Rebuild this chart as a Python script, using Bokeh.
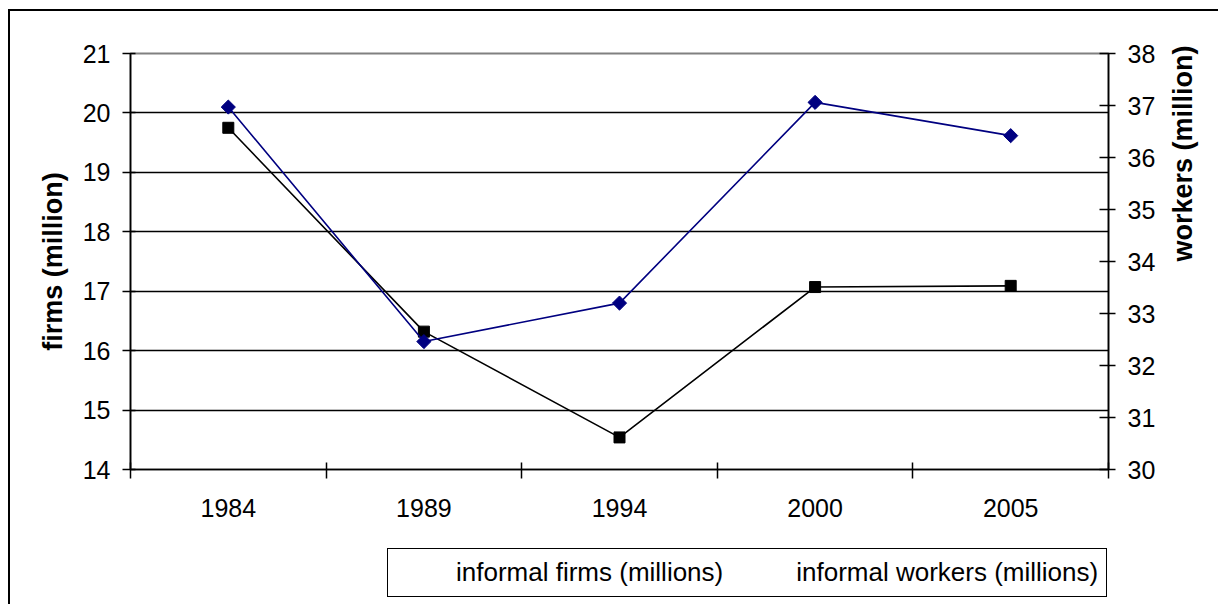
import math
from bokeh.plotting import figure
from bokeh.layouts import column
from bokeh.models import (Range1d, LinearAxis, FixedTicker, Legend, LegendItem, ColumnDataSource,
                          InlineStyleSheet)
from bokeh.embed import file_html
from bokeh.resources import INLINE

years = ["1984", "1989", "1994", "2000", "2005"]
firms = [19.75, 16.32, 14.54, 17.07, 17.09]
workers = [36.97, 32.46, 33.20, 37.06, 36.42]
firms_ticks = [14, 15, 16, 17, 18, 19, 20, 21]
workers_ticks = [30, 31, 32, 33, 34, 35, 36, 37, 38]
series_labels = ["informal firms (millions)", "informal workers (millions)"]

FONT = "Liberation Sans"
FIRM_COLOR = "black"
WORKER_COLOR = "#000080"
xs = [i + 0.5 for i in range(len(years))]
src = ColumnDataSource(dict(x=xs, firms=firms, workers=workers))

# ---------------- main chart ----------------
p = figure(width=1218, height=530, output_backend="svg", toolbar_location=None,
           x_range=Range1d(0, len(years)), y_range=Range1d(14, 21),
           min_border_left=130, min_border_right=110, min_border_top=53, min_border_bottom=61)
p.stylesheets = [InlineStyleSheet(css=(
    ":host::after { content: ''; position: absolute; left: 8px; top: 9px; right: 0px; bottom: 0px;"
    " border-left: 2px solid black; border-top: 2px solid black; pointer-events: none; z-index: 100; }"))]
p.extra_y_ranges = {"workers": Range1d(30, 38)}

p.background_fill_color = "white"
p.border_fill_color = "white"
p.outline_line_color = "#808080"
p.outline_line_width = 2

p.xgrid.visible = False
p.ygrid.ticker = FixedTicker(ticks=firms_ticks[1:-1])
p.ygrid.grid_line_color = "black"
p.ygrid.grid_line_width = 1.6

# x axis: labels centred in each slot, tick marks between slots
xa = p.xaxis[0]
xa.ticker = FixedTicker(ticks=xs, minor_ticks=list(range(len(years) + 1)))
xa.major_label_overrides = {x: y for x, y in zip(xs, years)}
xa.major_tick_out = 0
xa.major_tick_in = 0
xa.minor_tick_in = 7
xa.minor_tick_out = 9
xa.minor_tick_line_color = "black"
xa.minor_tick_line_width = 1.5
xa.major_label_standoff = 20

# left axis
ya = p.yaxis[0]
ya.ticker = FixedTicker(ticks=firms_ticks)
ya.major_tick_in = 5
ya.major_tick_out = 8
ya.minor_tick_line_color = None
ya.major_label_standoff = 12
ya.axis_label = "firms (million)"
ya.axis_label_standoff = 12

# right axis
ra = LinearAxis(y_range_name="workers", ticker=FixedTicker(ticks=workers_ticks))
ra.major_tick_in = 9
ra.major_tick_out = 7
ra.minor_tick_line_color = None
ra.major_label_standoff = 12
ra.axis_label = "workers (million)"
ra.axis_label_standoff = 25
ra.axis_label_orientation = math.pi / 2
p.add_layout(ra, "right")

for ax in [xa, ya, ra]:
    ax.axis_line_color = "black"
    ax.axis_line_width = 1.6
    ax.major_tick_line_color = "black"
    ax.major_tick_line_width = 1.5
    ax.major_label_text_font = FONT
    ax.major_label_text_font_size = "25px"
    ax.major_label_text_color = "black"
    ax.axis_label_text_font = FONT
    ax.axis_label_text_font_size = "27px"
    ax.axis_label_text_font_style = "bold"
    ax.axis_label_text_color = "black"

p.line("x", "firms", source=src, line_color=FIRM_COLOR, line_width=1.6)
p.scatter("x", "firms", source=src, marker="square", size=11,
          fill_color=FIRM_COLOR, line_color=FIRM_COLOR)
p.line("x", "workers", source=src, y_range_name="workers", line_color=WORKER_COLOR, line_width=1.6)
p.scatter("x", "workers", source=src, y_range_name="workers", marker="square", angle=math.pi / 4,
          size=10, fill_color=WORKER_COLOR, line_color=WORKER_COLOR)

# ---------------- legend strip below ----------------
p2 = figure(width=1218, height=74, output_backend="svg", toolbar_location=None,
            x_range=Range1d(0, 1), y_range=Range1d(0, 1),
            x_axis_type=None, y_axis_type=None, min_border=0)
p2.stylesheets = [InlineStyleSheet(css=(
    ":host::after { content: ''; position: absolute; left: 8px; top: 0px; right: 0px; bottom: 0px;"
    " border-left: 2px solid black; pointer-events: none; z-index: 100; }"))]
p2.outline_line_color = None
p2.background_fill_color = "white"
p2.border_fill_color = "white"
p2.xgrid.visible = False
p2.ygrid.visible = False

empty = ColumnDataSource(dict(x=[], y=[]))
k1 = p2.line("x", "y", source=empty, line_color=FIRM_COLOR, line_width=1.6)
s1 = p2.scatter("x", "y", source=empty, marker="square", size=11,
                fill_color=FIRM_COLOR, line_color=FIRM_COLOR)
k2 = p2.line("x", "y", source=empty, line_color=WORKER_COLOR, line_width=1.6)
s2 = p2.scatter("x", "y", source=empty, marker="square", angle=math.pi / 4, size=10,
                fill_color=WORKER_COLOR, line_color=WORKER_COLOR)

legend = Legend(items=[LegendItem(label=series_labels[0], renderers=[k1, s1]),
                       LegendItem(label=series_labels[1], renderers=[k2, s2])],
                orientation="horizontal", location=(257, 7))
legend.border_line_color = "black"
legend.border_line_alpha = 1
legend.border_line_width = 1.5
legend.background_fill_color = "white"
legend.background_fill_alpha = 1
legend.label_text_font = FONT
legend.label_text_font_size = "26px"
legend.label_text_color = "black"
legend.glyph_width = 53
legend.glyph_height = 20
legend.label_standoff = 7
legend.spacing = 13
legend.padding = 8
legend.margin = 0
p2.add_layout(legend, "center")

layout = column(p, p2, spacing=0)
open("out.html", "w").write(file_html(layout, INLINE))
